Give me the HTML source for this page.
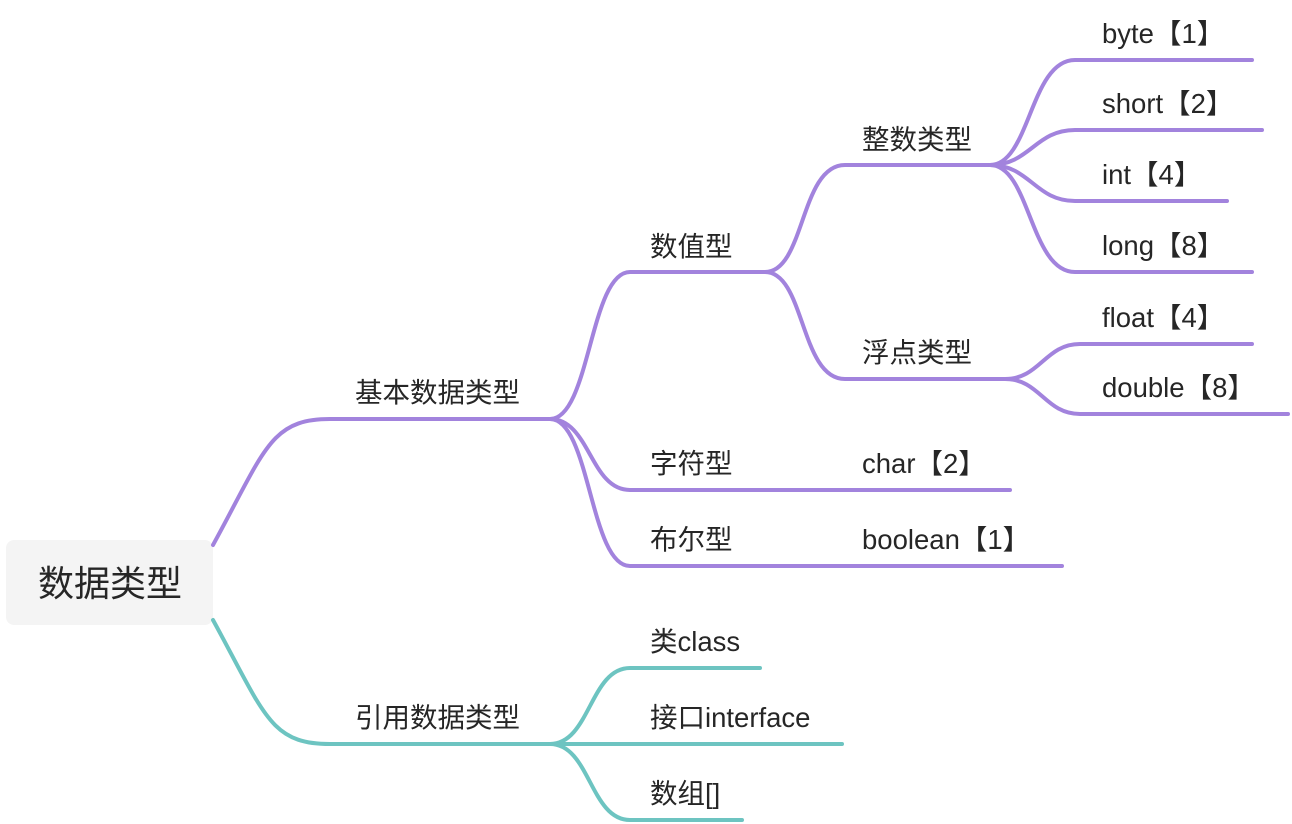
<!DOCTYPE html>
<html><head><meta charset="utf-8"><style>
html,body{margin:0;padding:0;background:#fff;width:1292px;height:824px;overflow:hidden}
text{font-family:"Liberation Sans","Noto Sans CJK SC",sans-serif;fill:#262626;font-size:27.5px}
</style></head><body>
<svg width="1292" height="824" viewBox="0 0 1292 824" xmlns="http://www.w3.org/2000/svg">
<rect x="6" y="540" width="207" height="85" rx="8" fill="#f4f4f4"/>
<text x="110" y="596" text-anchor="middle" style="font-size:36px">数据类型</text>
<g fill="none" stroke="#a283dd" stroke-width="4" stroke-linecap="round">
<path d="M213 545 C265 450, 270 419, 330 419 L550 419"/>
<path d="M550 419 C590 419, 590 272, 630 272 L765 272"/>
<path d="M550 419 C590 419, 590 490, 630 490 L1010 490"/>
<path d="M550 419 C590 419, 590 566, 630 566 L1062 566"/>
<path d="M765 272 C805 272, 800 165, 845 165 L990 165"/>
<path d="M765 272 C805 272, 800 379, 845 379 L1005 379"/>
<path d="M990 165 C1030 165, 1030 60, 1075 60 L1252 60"/>
<path d="M990 165 C1030 165, 1035 130, 1075 130 L1262 130"/>
<path d="M990 165 C1030 165, 1035 201, 1075 201 L1227 201"/>
<path d="M990 165 C1030 165, 1030 272, 1075 272 L1252 272"/>
<path d="M1005 379 C1040 379, 1045 344, 1080 344 L1252 344"/>
<path d="M1005 379 C1040 379, 1045 414, 1080 414 L1288 414"/>
</g>
<g fill="none" stroke="#6dc4c1" stroke-width="4" stroke-linecap="round">
<path d="M213 620 C265 715, 270 744, 330 744 L550 744"/>
<path d="M550 744 C590 744, 590 668, 630 668 L760 668"/>
<path d="M550 744 L842 744"/>
<path d="M550 744 C590 744, 590 820, 630 820 L742 820"/>
</g>
<text x="355" y="402">基本数据类型</text>
<text x="355" y="727">引用数据类型</text>
<text x="650" y="256">数值型</text>
<text x="650" y="473">字符型</text>
<text x="650" y="549">布尔型</text>
<text x="862" y="149">整数类型</text>
<text x="862" y="362">浮点类型</text>
<text x="862" y="473">char【2】</text>
<text x="862" y="549">boolean【1】</text>
<text x="1102" y="43">byte【1】</text>
<text x="1102" y="113">short【2】</text>
<text x="1102" y="184">int【4】</text>
<text x="1102" y="255">long【8】</text>
<text x="1102" y="327">float【4】</text>
<text x="1102" y="397">double【8】</text>
<text x="650" y="651">类class</text>
<text x="650" y="727">接口interface</text>
<text x="650" y="803">数组[]</text>
</svg>
</body></html>
